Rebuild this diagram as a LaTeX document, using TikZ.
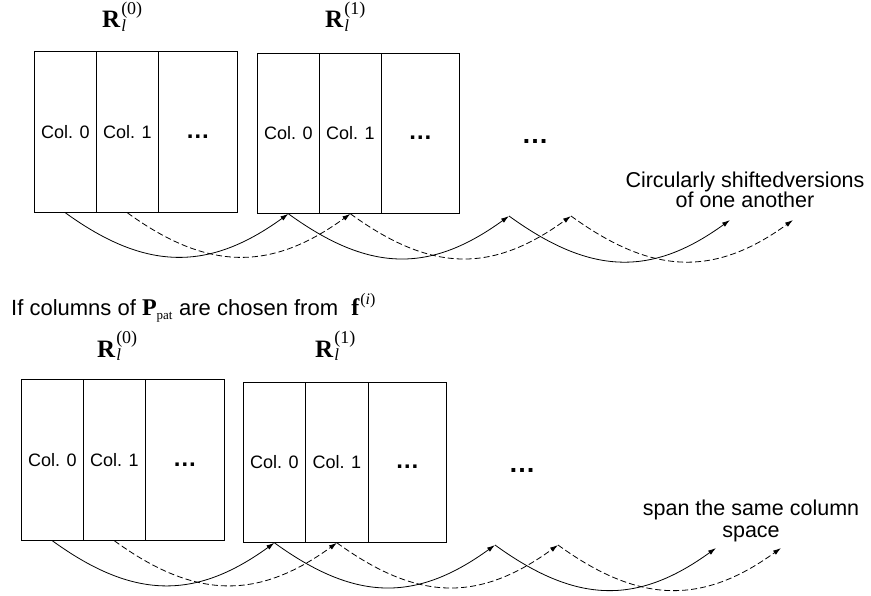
\documentclass[tikz,border=0pt]{standalone}
\usepackage{fontspec}
\setmainfont{Liberation Sans}
\newfontfamily\tms{Liberation Serif}
\usetikzlibrary{arrows.meta}

% sized pieces in Times-like serif
\newcommand{\sz}[1]{\fontsize{#1}{#1}\selectfont}
% bold matrix symbol R_l^{(k)}
\newcommand{\Rmat}[1]{$\mbox{\tms\bfseries\sz{25}R}_{\mbox{\tms\itshape\sz{17}\kern1pt l}}^{\mbox{\tms\sz{18}\kern1pt(#1)}}$}

\begin{document}
\begin{tikzpicture}[x=1pt,y=-1pt,
  colbox/.style={draw, line width=0.8pt, inner sep=0pt, anchor=north west,
    minimum height=#1, text height=13pt, text depth=0pt,
    font=\fontsize{18}{20}\selectfont},
  colbox/.default=161,
  matlab/.style={anchor=base west, inner sep=0pt},
  caption/.style={anchor=base, inner sep=0pt, font=\fontsize{21.5}{24}\selectfont},
  boxdots/.style={font=\bfseries\fontsize{24}{26}\selectfont},
  bigdots/.style={anchor=base, inner sep=0pt, font=\bfseries\fontsize{27}{30}\selectfont},
  shift arc/.style={line width=0.8pt, -{Latex[length=8pt,width=5pt]},
    to path={.. controls +(80,58) and +(-80,58) .. (\tikztotarget)}},
  dash arc/.style={shift arc, dash pattern=on 6pt off 3pt}
]
\fill[white] (0,0) rectangle (871,596);
\useasboundingbox (0,0) rectangle (871,596);

% ---------------- upper panel ----------------
\node[matlab] (ra) at (102,28) {\Rmat{0}};
\node[matlab] (rb) at (325,28) {\Rmat{1}};

\node[colbox, minimum width=62] (a0) at (34,51) {Col. 0};
\node[colbox, minimum width=62] (a1) at (96,51) {Col. 1};
\node[colbox, minimum width=79, boxdots] (a2) at (158,51) {…};

\node[colbox=160, minimum width=62] (b0) at (257,53) {Col. 0};
\node[colbox=160, minimum width=62] (b1) at (319,53) {Col. 1};
\node[colbox=160, minimum width=78, boxdots] (b2) at (381,53) {…};

\node[bigdots] (dotsA) at (535,144) {…};

\node[caption] (capA1) at (745,188) {Circularly shiftedversions};
\node[caption] (capA2) at (745,208) {of one another};

\coordinate (pa1) at (509,216);
\coordinate (pa2) at (571,216);
\coordinate (qa1) at (730,220);
\coordinate (qa2) at (793,220);

\draw[shift arc] (a0.south) to (b0.south);
\draw[dash arc]  (a1.south) to (b1.south);
\draw[shift arc] (b0.south) to (pa1);
\draw[dash arc]  (b1.south) to (pa2);
\draw[shift arc] (pa1) to (qa1);
\draw[dash arc]  (pa2) to (qa2);

% ---------------- lower panel ----------------
\node[anchor=base west, inner sep=0pt, font=\fontsize{22}{24}\selectfont] (cond) at (11,316)
  {If columns of $\mbox{\tms\bfseries\sz{24}P}_{\mbox{\tms\sz{13}pat}}$ are chosen from\hspace{0.6em}$\mbox{\tms\bfseries\sz{24}f}^{\mbox{\tms\sz{16}\kern1pt(\textit{i})}}$};

\node[matlab] (rc) at (97,357) {\Rmat{0}};
\node[matlab] (rd) at (315,357) {\Rmat{1}};

\node[colbox, minimum width=62] (c0) at (21,379) {Col. 0};
\node[colbox, minimum width=62] (c1) at (83,379) {Col. 1};
\node[colbox, minimum width=79, boxdots] (c2) at (145,379) {…};

\node[colbox=160, minimum width=62] (d0) at (243,382) {Col. 0};
\node[colbox=160, minimum width=63] (d1) at (305,382) {Col. 1};
\node[colbox=160, minimum width=78, boxdots] (d2) at (368,382) {…};

\node[bigdots] (dotsB) at (522,472) {…};

\node[caption] (capB1) at (751,515) {span the same column};
\node[caption] (capB2) at (751,537) {space};

\coordinate (pb1) at (495,545);
\coordinate (pb2) at (558,545);
\coordinate (qb1) at (716,548);
\coordinate (qb2) at (781,548);

\draw[shift arc] (c0.south) to (d0.south);
\draw[dash arc]  (c1.south) to (d1.south);
\draw[shift arc] (d0.south) to (pb1);
\draw[dash arc]  (d1.south) to (pb2);
\draw[shift arc] (pb1) to (qb1);
\draw[dash arc]  (pb2) to (qb2);
\end{tikzpicture}
\end{document}
